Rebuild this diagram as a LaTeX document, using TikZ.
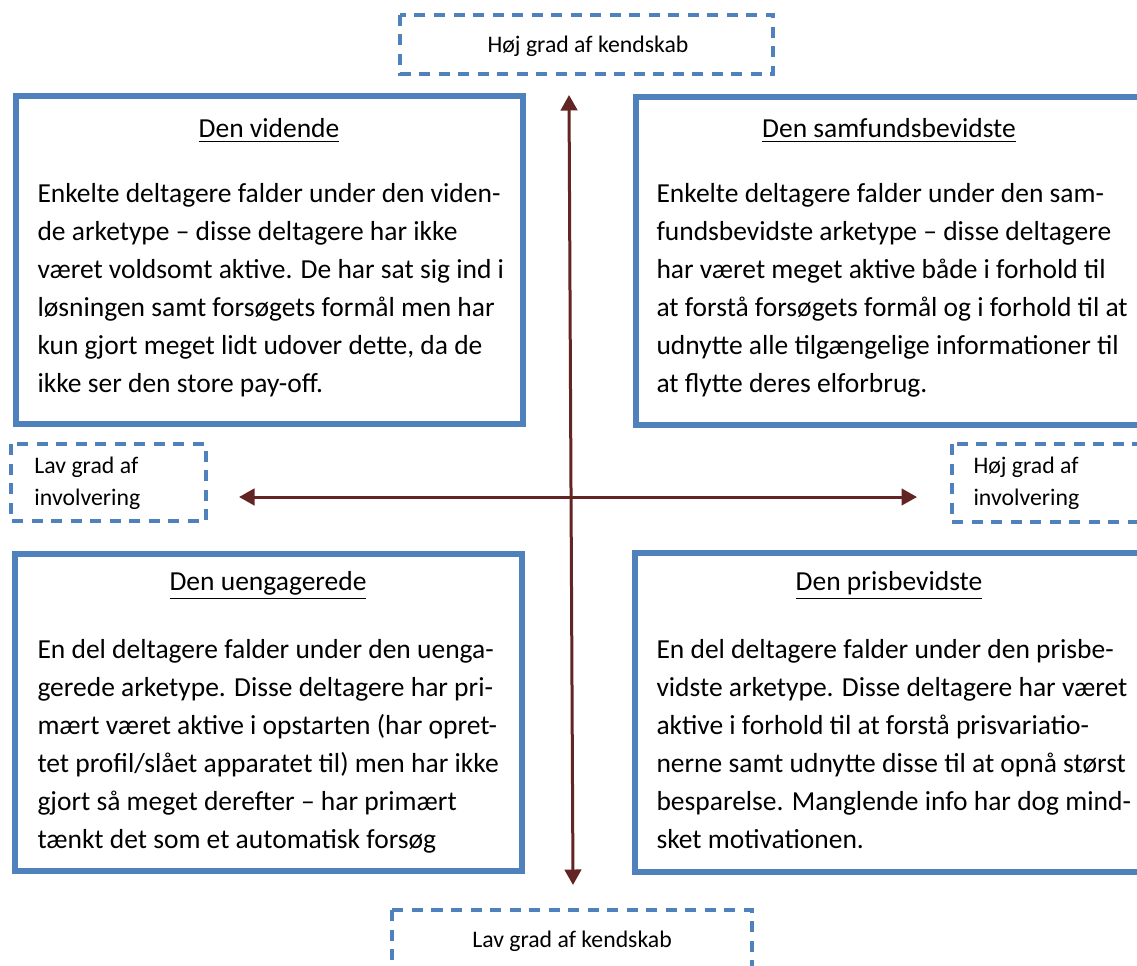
\documentclass[tikz,border=0pt]{standalone}
\usepackage{fontspec}
\setmainfont{Carlito}
\usetikzlibrary{arrows.meta}
\definecolor{boxblue}{HTML}{4F81BD}
\definecolor{axisred}{HTML}{632523}
\begin{document}
\begin{tikzpicture}[x=0.4pt,y=-0.4pt,
	archbox/.style={draw=boxblue,line width=2.4pt},
	dashbox/.style={draw=boxblue,line width=1.25pt,dash pattern=on 4.4pt off 3.4pt},
	archtitle/.style={font=\fontsize{11}{15.2}\selectfont,inner sep=0pt},
	archtext/.style={font=\fontsize{11}{15.2}\selectfont,align=left,anchor=north west,inner sep=0pt},
	gradtext/.style={font=\fontsize{9.5}{12.8}\selectfont,align=left,inner sep=0pt},
	axisline/.style={draw=axisred,line width=1.2pt,{Triangle[width=6.6pt,length=6.2pt]}-{Triangle[width=6.6pt,length=6.2pt]}}]
	\clip (0,0) rectangle (1137,965);
	% de fire arketyper
	\draw[archbox] (15.5,96.5) rectangle (523,424);
	\draw[archbox] (636,97) rectangle (1145,425);
	\draw[archbox] (15,554) rectangle (522,871);
	\draw[archbox] (635,553) rectangle (1145,872);
	% kendskab og involvering
	\draw[dashbox] (400,15) rectangle (773,74);
	\draw[dashbox] (392,910) rectangle (752,975);
	\draw[dashbox] (11,444) rectangle (206,521);
	\draw[dashbox] (952,444) rectangle (1145,522);
	\node[gradtext] (hojkend) at (588,46) {Høj grad af kendskab};
	\node[gradtext] (lavkend) at (572,941) {Lav grad af kendskab};
	\node[gradtext,anchor=west] (lavinv) at (34,483) {Lav grad af\\involvering};
	\node[gradtext,anchor=west] (hojinv) at (973,483) {Høj grad af\\involvering};
	% akser
	\coordinate (ktop) at (569,95);
	\coordinate (kbot) at (573,885);
	\coordinate (ileft) at (239,497);
	\coordinate (iright) at (917,497);
	\draw[axisline] (ktop) -- (kbot);
	\draw[axisline] (ileft) -- (iright);
	% tekster
	\node[archtitle] (vidende) at (269,131) {\underline{Den vidende}};
	\node[archtext] (videndetekst) at (37,183) {Enkelte deltagere falder under den viden-\\
		de arketype – disse deltagere har ikke\\
		været voldsomt aktive. De har sat sig ind i\\
		løsningen samt forsøgets formål men har\\
		kun gjort meget lidt udover dette, da de\\
		ikke ser den store pay-off.};
	\node[archtitle] (samfund) at (889,131) {\underline{Den samfundsbevidste}};
	\node[archtext] (samfundtekst) at (656,183) {Enkelte deltagere falder under den sam-\\
		fundsbevidste arketype – disse deltagere\\
		har været meget aktive både i forhold til\\
		at forstå forsøgets formål og i forhold til at\\
		udnytte alle tilgængelige informationer til\\
		at flytte deres elforbrug.};
	\node[archtitle] (uengageret) at (268,586) {\underline{Den uengagerede}};
	\node[archtext] (uengagerettekst) at (37,639) {En del deltagere falder under den uenga-\\
		gerede arketype. Disse deltagere har pri-\\
		mært været aktive i opstarten (har opret-\\
		tet profil/slået apparatet til) men har ikke\\
		gjort så meget derefter – har primært\\
		tænkt det som et automatisk forsøg};
	\node[archtitle] (prisbevidst) at (889,586) {\underline{Den prisbevidste}};
	\node[archtext] (prisbevidsttekst) at (656,639) {En del deltagere falder under den prisbe-\\
		vidste arketype. Disse deltagere har været\\
		aktive i forhold til at forstå prisvariatio-\\
		nerne samt udnytte disse til at opnå størst\\
		besparelse. Manglende info har dog mind-\\
		sket motivationen.};
\end{tikzpicture}
\end{document}
